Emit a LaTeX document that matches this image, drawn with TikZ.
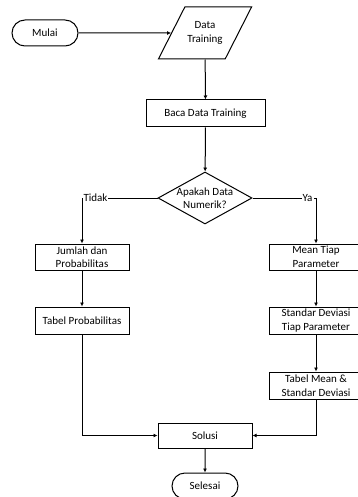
\documentclass[tikz,border=0pt]{standalone}
\usepackage{fontspec}
\setmainfont{Carlito}
\usetikzlibrary{shapes.geometric,shapes.misc,arrows.meta}

\tikzset{
    proses/.style={draw, rectangle, minimum width=94pt, minimum height=26pt, inner sep=1pt, align=center},
    terminal/.style={draw, rounded rectangle, minimum width=68pt, minimum height=26pt, inner sep=1pt},
    masukan/.style={draw, trapezium, trapezium left angle=45, trapezium right angle=135,
        trapezium stretches=true, minimum width=94pt, minimum height=52pt, inner sep=1pt, align=center},
    keputusan/.style={draw, diamond, minimum width=94pt, minimum height=52pt, inner sep=0pt},
    panah/.style={-{Latex[length=4pt,width=4pt]}},
    cabang/.style={fill=white, inner sep=1pt}
}

\begin{document}
\begin{tikzpicture}[x=1pt, y=-1pt, line width=1pt,
        every node/.append style={font=\fontsize{11}{13.5}\selectfont}]
        \useasboundingbox (0, 0) rectangle (357, 497);

        % simbol alur
        \node[terminal] (mulai) at (45, 33) {Mulai};
        \node[masukan] (data) at (205, 33) {Data\\Training};
        \node[proses, minimum width=119pt, minimum height=27pt] (baca) at (205.5, 113.5) {Baca Data Training};
        \node[keputusan] (cek) at (205, 198) {};
        \node[align=center, inner sep=0pt] (cekteks) at (cek.center) {Apakah Data\\Numerik?};
        \node[proses] (jumlah) at (82, 257) {Jumlah dan\\Probabilitas};
        \node[proses, minimum height=27pt] (tabelprob) at (82, 320.5) {Tabel Probabilitas};
        \node[proses] (mean) at (316, 257) {Mean Tiap\\Parameter};
        \node[proses, minimum height=27pt] (stdev) at (316, 320.5) {Standar Deviasi\\Tiap Parameter};
        \node[proses, minimum height=27pt] (tabelmean) at (316, 385.5) {Tabel Mean \&\\Standar Deviasi};
        \node[proses, minimum height=25pt] (solusi) at (205, 435.5) {Solusi};
        \node[terminal] (selesai) at (205, 486) {Selesai};

        % garis alur
        \draw[panah] (mulai) -- (data);
        \draw[panah] (data) -- (baca);
        \draw[panah] (baca) -- (cek);
        \draw[panah] (cek.west) -| node[cabang, anchor=west, pos=0.5] {Tidak} (jumlah);
        \draw[panah] (cek.east) -| node[cabang, anchor=east, pos=0.5, xshift=-2pt] {Ya} (mean);
        \draw[panah] (jumlah) -- (tabelprob);
        \draw[panah] (mean) -- (stdev);
        \draw[panah] (stdev) -- (tabelmean);
        \draw[panah] (tabelprob) |- (solusi);
        \draw[panah] (tabelmean) |- (solusi);
        \draw[panah] (solusi) -- (selesai);
    \end{tikzpicture}
\end{document}
